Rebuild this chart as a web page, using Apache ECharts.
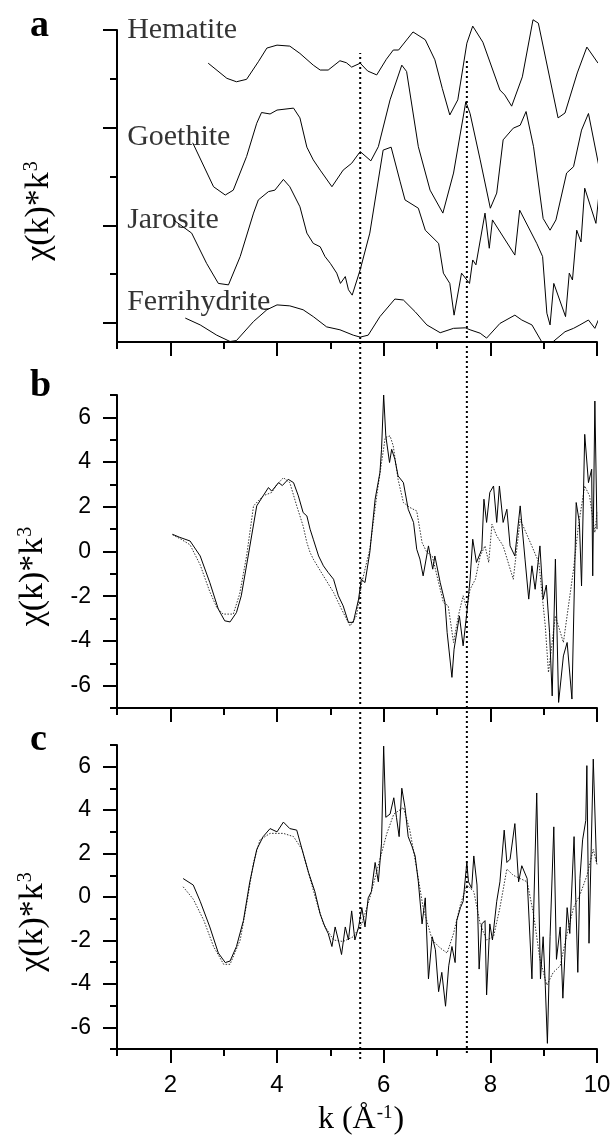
<!DOCTYPE html>
<html>
<head>
<meta charset="utf-8">
<script src="https://cdn.jsdelivr.net/npm/echarts@6.0.0/dist/echarts.min.js"></script>
<style>
  html, body { margin: 0; padding: 0; background: #fff; }
  #exafs { width: 614px; height: 1144px; }
</style>
</head>
<body>
<div id="exafs"></div>
<script>
// panel a: four reference spectra, already offset on the y axis
const hematite = [[2.71,5.32],[3.06,5.01],[3.24,4.94],[3.43,4.99],[3.65,5.35],[3.81,5.63],[4.0,5.69],[4.24,5.67],[4.43,5.52],[4.68,5.28],[4.81,5.18],[4.96,5.18],[5.18,5.37],[5.3,5.33],[5.4,5.24],[5.56,5.32],[5.7,5.16],[5.87,5.08],[6.05,5.4],[6.18,5.59],[6.28,5.59],[6.55,5.96],[6.78,5.8],[6.96,5.39],[7.1,4.8],[7.24,4.26],[7.39,4.57],[7.56,5.73],[7.67,6.08],[7.86,5.75],[8.18,4.77],[8.27,4.67],[8.4,4.44],[8.6,5.04],[8.8,6.21],[8.9,6.14],[9.27,4.2],[9.4,4.3],[9.63,5.12],[9.81,5.65],[10.02,5.32]];
const goethite = [[2.42,3.69],[2.81,2.79],[3.03,2.62],[3.18,2.72],[3.43,3.41],[3.62,4.09],[3.71,4.31],[3.87,4.28],[4.0,4.36],[4.31,4.4],[4.43,4.2],[4.56,3.6],[4.68,3.34],[4.81,3.13],[5.03,2.79],[5.24,3.13],[5.4,3.27],[5.56,3.51],[5.76,3.32],[5.9,3.61],[6.12,4.57],[6.34,5.28],[6.43,5.15],[6.65,3.61],[6.87,2.72],[7.11,2.25],[7.31,3.07],[7.54,4.53],[7.62,4.29],[7.81,3.34],[8.0,2.35],[8.12,2.66],[8.24,3.75],[8.43,3.99],[8.56,4.05],[8.67,4.33],[8.81,3.61],[8.99,2.14],[9.12,1.9],[9.23,2.11],[9.43,3.07],[9.56,3.2],[9.71,3.95],[9.84,4.29],[10.03,3.24]];
const jarosite = [[2.06,2.11],[2.4,1.84],[2.68,1.22],[2.9,0.81],[3.09,0.78],[3.31,1.36],[3.56,2.25],[3.65,2.52],[3.84,2.69],[3.96,2.72],[4.12,2.94],[4.24,2.79],[4.43,2.38],[4.56,1.84],[4.68,1.63],[4.81,1.56],[4.9,1.36],[5.0,1.22],[5.12,1.02],[5.19,0.81],[5.28,0.95],[5.34,0.68],[5.41,0.57],[5.56,1.09],[5.74,1.84],[5.99,3.54],[6.14,3.6],[6.31,2.89],[6.4,2.52],[6.65,2.35],[6.78,1.9],[7.03,1.63],[7.12,1.02],[7.24,0.81],[7.32,0.16],[7.46,1.02],[7.61,0.81],[7.67,1.29],[7.73,1.19],[7.9,2.25],[7.98,1.53],[8.04,2.11],[8.46,1.39],[8.55,2.31],[8.87,1.63],[8.98,1.36],[9.06,0.2],[9.12,-0.04],[9.19,0.81],[9.41,0.13],[9.48,1.02],[9.54,0.88],[9.62,1.9],[9.7,1.66],[9.77,2.76],[9.98,2.04],[10.09,3.2]];
const ferrihydrite = [[2.28,0.1],[2.56,-0.04],[2.87,-0.25],[3.12,-0.38],[3.24,-0.36],[3.56,0.03],[3.81,0.27],[4.0,0.37],[4.24,0.35],[4.49,0.27],[4.68,0.13],[4.93,-0.08],[5.18,-0.14],[5.43,-0.25],[5.56,-0.29],[5.71,-0.25],[5.93,0.13],[6.21,0.49],[6.37,0.47],[6.59,0.23],[6.81,-0.04],[7.06,-0.2],[7.31,-0.11],[7.53,-0.1],[7.62,-0.14],[7.81,-0.21],[7.93,-0.31],[8.18,-0.01],[8.46,0.16],[8.59,0.06],[8.78,-0.04],[8.96,-0.38],[9.18,-0.38],[9.4,-0.18],[9.56,-0.11],[9.68,-0.04],[9.84,0.06],[9.96,-0.11],[10.04,0.1]];
const refNames = ['Hematite', 'Goethite', 'Jarosite', 'Ferrihydrite'];
const refLabelAt = [[1.19, 6.0], [1.19, 3.81], [1.19, 2.11], [1.19, 0.42]];

// panel b: sample (solid) and fit (dotted)
const bSample = [[2.04,0.77],[2.18,0.63],[2.37,0.47],[2.56,-0.2],[2.74,-1.39],[2.9,-2.58],[3.02,-3.1],[3.12,-3.15],[3.24,-2.73],[3.33,-1.98],[3.46,-0.2],[3.62,2.04],[3.74,2.49],[3.84,2.86],[3.9,2.7],[4.03,3.08],[4.1,2.95],[4.21,3.23],[4.31,3.08],[4.4,2.49],[4.49,1.74],[4.56,1.59],[4.62,1.0],[4.68,0.55],[4.78,-0.2],[4.87,-0.64],[4.96,-0.94],[5.06,-1.24],[5.15,-1.98],[5.24,-2.43],[5.34,-3.17],[5.43,-3.17],[5.53,-2.13],[5.58,-1.24],[5.65,-1.39],[5.74,-0.04],[5.84,2.34],[5.93,3.53],[5.96,4.57],[6.0,7.0],[6.04,5.17],[6.11,3.98],[6.15,4.57],[6.21,4.13],[6.27,3.38],[6.37,3.08],[6.46,1.89],[6.56,1.3],[6.62,0.1],[6.68,-0.34],[6.74,-1.09],[6.84,0.25],[6.92,-0.79],[6.96,-0.2],[7.06,-1.39],[7.15,-2.28],[7.19,-3.62],[7.28,-5.63],[7.32,-4.37],[7.42,-2.88],[7.49,-4.22],[7.56,-2.73],[7.62,-1.24],[7.67,0.55],[7.74,-0.49],[7.84,0.1],[7.88,2.34],[7.93,1.3],[7.99,2.64],[8.06,2.93],[8.12,1.3],[8.17,2.93],[8.24,1.3],[8.31,1.89],[8.37,0.25],[8.46,-0.2],[8.56,2.04],[8.65,-0.34],[8.72,-2.13],[8.78,-0.64],[8.84,-1.69],[8.93,0.25],[8.99,-2.13],[9.05,-1.5],[9.11,-3.62],[9.16,-6.46],[9.22,-0.34],[9.28,-6.75],[9.37,-4.67],[9.44,-4.07],[9.53,-6.6],[9.61,2.19],[9.67,1.3],[9.71,-1.54],[9.77,5.24],[9.84,3.08],[9.9,3.68],[9.92,-1.09],[9.96,6.73],[10.0,1.0]];
const bFit = [[2.04,0.75],[2.2,0.55],[2.37,0.3],[2.56,-0.6],[2.74,-1.8],[2.87,-2.5],[2.99,-2.8],[3.18,-2.8],[3.3,-1.9],[3.43,-0.2],[3.56,2.04],[3.74,2.49],[3.9,2.64],[4.0,3.0],[4.12,3.3],[4.24,3.08],[4.37,2.04],[4.43,1.59],[4.49,1.14],[4.56,0.4],[4.62,-0.04],[4.68,-0.34],[4.87,-1.09],[5.06,-1.83],[5.21,-2.58],[5.37,-3.33],[5.49,-2.88],[5.59,-1.39],[5.74,0.1],[5.87,2.49],[5.96,3.98],[6.03,5.1],[6.12,5.17],[6.18,4.72],[6.27,3.23],[6.37,2.19],[6.49,1.97],[6.62,1.81],[6.72,0.4],[6.81,-0.04],[6.91,-0.2],[7.0,-1.09],[7.12,-2.28],[7.21,-2.43],[7.31,-4.07],[7.4,-2.88],[7.49,-1.98],[7.56,-2.58],[7.62,-1.69],[7.72,-1.24],[7.81,-0.2],[7.9,0.25],[7.97,-0.49],[8.03,1.22],[8.12,0.7],[8.24,0.25],[8.43,-1.24],[8.56,1.44],[8.75,0.4],[8.91,-0.49],[9.03,-3.33],[9.09,-5.41],[9.22,-2.88],[9.37,-4.07],[9.5,-1.83],[9.56,-0.79],[9.65,1.14],[9.77,2.93],[9.86,2.49],[9.96,0.85],[10.0,1.74]];

// panel c: sample (solid) and fit (dotted)
const cSample = [[2.24,0.85],[2.43,0.55],[2.56,-0.2],[2.74,-1.38],[2.9,-2.58],[3.03,-3.02],[3.12,-2.95],[3.24,-2.28],[3.37,-1.09],[3.49,0.7],[3.62,2.19],[3.74,2.78],[3.87,3.15],[4.0,3.0],[4.12,3.45],[4.24,3.15],[4.37,3.08],[4.47,2.19],[4.59,1.14],[4.71,0.25],[4.81,-0.79],[4.9,-1.38],[4.96,-1.68],[5.03,-2.28],[5.09,-1.38],[5.15,-1.98],[5.21,-2.65],[5.28,-1.38],[5.34,-1.98],[5.4,-0.64],[5.46,-1.98],[5.53,-1.38],[5.59,-0.49],[5.65,-1.38],[5.71,-0.04],[5.77,0.25],[5.84,1.59],[5.9,0.7],[5.96,2.48],[6.0,6.95],[6.04,3.67],[6.12,3.82],[6.19,4.57],[6.24,3.67],[6.29,2.78],[6.34,5.01],[6.4,4.12],[6.46,2.78],[6.53,2.34],[6.59,1.89],[6.65,0.7],[6.72,-1.24],[6.78,-0.04],[6.84,-3.77],[6.91,-1.83],[6.97,-2.43],[7.03,-4.36],[7.09,-3.47],[7.16,-5.03],[7.22,-3.17],[7.28,-2.28],[7.34,-3.02],[7.37,-1.09],[7.44,-0.49],[7.49,-0.2],[7.56,1.59],[7.59,0.7],[7.65,0.4],[7.69,1.89],[7.75,0.55],[7.79,-3.32],[7.84,-1.24],[7.9,-1.09],[7.93,-4.51],[7.99,-1.24],[8.04,-1.98],[8.12,-0.2],[8.18,0.7],[8.26,3.08],[8.31,1.59],[8.37,1.74],[8.46,3.38],[8.53,0.7],[8.59,1.44],[8.69,0.85],[8.78,-3.77],[8.87,4.79],[8.94,-3.77],[8.99,-1.83],[9.03,-4.06],[9.07,-6.74],[9.12,-1.83],[9.19,3.23],[9.24,-2.87],[9.31,-1.38],[9.36,-4.66],[9.44,-0.49],[9.49,-1.68],[9.57,2.78],[9.64,-3.47],[9.68,0.85],[9.73,2.63],[9.79,3.53],[9.81,6.05],[9.85,-2.13],[9.93,6.35],[9.99,1.59]];
const cFit = [[2.24,0.47],[2.43,-0.1],[2.63,-1.09],[2.81,-2.28],[3.0,-3.1],[3.12,-3.1],[3.31,-1.98],[3.43,-0.34],[3.56,1.59],[3.68,2.63],[3.87,2.93],[4.12,2.93],[4.31,2.78],[4.47,2.19],[4.62,0.85],[4.74,-0.2],[4.87,-1.24],[5.06,-1.98],[5.24,-2.05],[5.43,-1.83],[5.59,-1.24],[5.74,-0.04],[5.93,1.74],[6.06,2.93],[6.19,3.82],[6.37,4.12],[6.49,3.08],[6.62,1.29],[6.74,-0.49],[6.91,-1.98],[7.06,-2.35],[7.19,-2.58],[7.31,-1.68],[7.44,-0.34],[7.56,0.55],[7.69,0.25],[7.81,-1.24],[7.93,-1.98],[8.06,-1.83],[8.18,-0.49],[8.31,1.29],[8.43,1.0],[8.56,0.85],[8.69,0.7],[8.81,-0.79],[8.93,-2.87],[9.06,-4.06],[9.18,-3.47],[9.31,-3.17],[9.44,-1.68],[9.56,-0.49],[9.68,0.1],[9.81,0.98],[9.93,2.19],[10.0,1.5]];

// dotted guide lines through all three panels (k values)
const guideK = [5.56, 7.56];

// ticks
const kMajor = [2, 4, 6, 8, 10];
const kMinor = [1, 3, 5, 7, 9];
const aMajor = [0, 2, 4, 6];
const aMinor = [1, 3, 5];
const bcMajor = [-6, -4, -2, 0, 2, 4, 6];
const bcMinor = [-7, -5, -3, -1, 1, 3, 5, 7];

const chart = echarts.init(document.getElementById('exafs'));

const SANS = '"Liberation Sans", Arial, sans-serif';
const SERIF = '"Liberation Serif", "Times New Roman", serif';
const axisColor = '#000';

// superscript: taller top-aligned token next to a bottom-aligned base token
const yName = {
  name: '{n|χ(k)*k}{s|3}',
  nameLocation: 'middle',
  nameRotate: 90,
  nameGap: 61,
  nameTextStyle: {
    padding: [0, 50, 0, 0],
    rich: {
      n: { fontFamily: SERIF, fontSize: 34, lineHeight: 34, color: '#000', verticalAlign: 'bottom' },
      s: { fontFamily: SERIF, fontSize: 20, lineHeight: 20, color: '#000', verticalAlign: 'top', padding: [0, 0, 24, 1] }
    }
  }
};

function xPair(g, last) {
  const major = {
    gridIndex: g, type: 'value', min: 1, max: 10, position: 'bottom',
    axisLine: { show: true, onZero: false, lineStyle: { color: axisColor, width: 2 } },
    axisTick: { show: true, customValues: kMajor, length: 14, lineStyle: { color: axisColor, width: 2 } },
    axisLabel: { show: last, customValues: kMajor, margin: 24, fontFamily: SANS, fontSize: 24, color: '#000' },
    splitLine: { show: false }
  };
  if (last) {
    major.name = '{a|k (Å}{s|-1}{a|)}';
    major.nameLocation = 'middle';
    major.nameGap = 55;
    major.nameTextStyle = {
      padding: [0, 0, 0, 8],
      rich: {
        a: { fontFamily: SERIF, fontSize: 32, lineHeight: 32, color: '#000', verticalAlign: 'bottom' },
        s: { fontFamily: SERIF, fontSize: 19, lineHeight: 19, color: '#000', verticalAlign: 'top', padding: [0, 1, 20, 1] }
      }
    };
  }
  const minor = {
    gridIndex: g, type: 'value', min: 1, max: 10, position: 'bottom',
    axisLine: { show: false, onZero: false },
    axisTick: { show: true, customValues: kMinor, length: 7, lineStyle: { color: axisColor, width: 2 } },
    axisLabel: { show: false },
    splitLine: { show: false }
  };
  return [major, minor];
}

function yPair(g, min, max, majors, minors, labels) {
  const major = Object.assign({
    gridIndex: g, type: 'value', min: min, max: max, position: 'left',
    axisLine: { show: true, onZero: false, lineStyle: { color: axisColor, width: 2 } },
    axisTick: { show: true, customValues: majors, length: 14, lineStyle: { color: axisColor, width: 2 } },
    axisLabel: { show: labels, customValues: majors, margin: 26, fontFamily: SANS, fontSize: 23, color: '#000' },
    splitLine: { show: false }
  }, yName);
  const minor = {
    gridIndex: g, type: 'value', min: min, max: max, position: 'left',
    axisLine: { show: false, onZero: false },
    axisTick: { show: true, customValues: minors, length: 7, lineStyle: { color: axisColor, width: 2 } },
    axisLabel: { show: false },
    splitLine: { show: false }
  };
  return [major, minor];
}

const aMin = -0.39;

const xAxes = [].concat(xPair(0, false), xPair(1, false), xPair(2, true));
xAxes.push({ gridIndex: 3, type: 'value', min: 1, max: 10, show: false });
const yAxes = [].concat(
  yPair(0, aMin, 6, aMajor, aMinor, false),
  yPair(1, -7, 7, bcMajor, bcMinor, true),
  yPair(2, -7, 7, bcMajor, bcMinor, true)
);
yAxes.push({ gridIndex: 3, type: 'value', min: 0, max: 1, show: false });

const solid = { color: '#000', width: 1 };
const dotted = { color: '#333', width: 1, type: [1.5, 1.5] };

function curve(data, xi, yi, style) {
  return {
    type: 'line', xAxisIndex: xi, yAxisIndex: yi, data: data,
    symbol: 'none', clip: false, silent: true, animation: false,
    lineStyle: style
  };
}

const series = [
  curve(hematite, 0, 0, solid),
  curve(goethite, 0, 0, solid),
  curve(jarosite, 0, 0, solid),
  curve(ferrihydrite, 0, 0, solid),
  {
    type: 'scatter', xAxisIndex: 0, yAxisIndex: 0, symbolSize: 0, clip: false, silent: true,
    data: refNames.map((n, i) => [refLabelAt[i][0], refLabelAt[i][1], n]),
    label: {
      show: true, position: 'right', distance: 0,
      formatter: p => p.value[2],
      fontFamily: SERIF, fontSize: 30, color: '#000'
    }
  },
  curve(bFit, 2, 2, dotted),
  curve(bSample, 2, 2, solid),
  curve(cFit, 4, 4, dotted),
  curve(cSample, 4, 4, solid)
];
guideK.forEach((k, i) => {
  const span = i === 0 ? [0, 1] : [0.006, 0.993];
  series.push(curve([[k, span[0]], [k, span[1]]], 6, 6, { color: '#000', width: 2, type: [2, 3] }));
});

const titleStyle = { fontFamily: SERIF, fontWeight: 'bold', fontSize: 38, color: '#000' };

const option = {
  backgroundColor: '#fff',
  animation: false,
  title: [
    { text: 'a', left: 30, top: 7, padding: 0, textStyle: titleStyle },
    { text: 'b', left: 30, top: 367, padding: 0, textStyle: titleStyle },
    { text: 'c', left: 30, top: 721, padding: 0, textStyle: titleStyle }
  ],
  grid: [
    { left: 117, width: 480, top: 30, height: 312 },
    { left: 117, width: 480, top: 395, height: 313 },
    { left: 117, width: 480, top: 745, height: 314 },
    { left: 117, width: 480, top: 53, height: 1006 }
  ],
  xAxis: xAxes,
  yAxis: yAxes,
  series: series
};

chart.setOption(option);
window.addEventListener('resize', function () {
  chart.resize();
});
</script>
</body>
</html>
